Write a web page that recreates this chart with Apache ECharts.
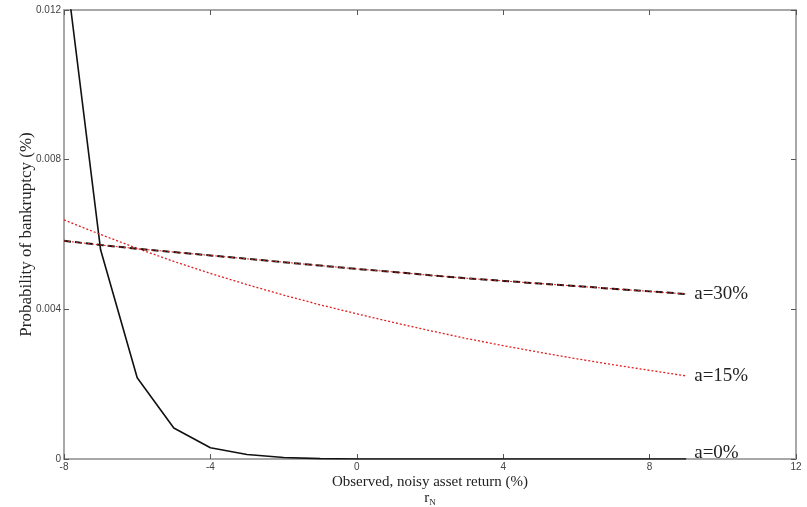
<!DOCTYPE html>
<html>
<head>
<meta charset="UTF-8">
<title>bankruptcy</title>
<script src="https://cdn.jsdelivr.net/npm/echarts@6/dist/echarts.min.js"></script>
<style>
  html, body { margin: 0; padding: 0; background: #fff; }
  #main { width: 807px; height: 507px; }
</style>
</head>
<body>
<div id="main"></div>
<script>
var returns = [-8, -7, -6, -5, -4, -3, -2, -1, 0, 1, 2, 3, 4, 5, 6, 7, 8, 9];
var a0 = [0.0135, 0.00559, 0.00217, 0.00083, 0.00030, 0.00012, 0.00004, 0.00001, 0, 0, 0, 0, 0, 0, 0, 0, 0, 0];
var a15 = [0.00639, 0.00600, 0.00563, 0.00528, 0.00496, 0.00466, 0.00438, 0.00412, 0.00388, 0.00365, 0.00343, 0.00322, 0.00303, 0.00285, 0.00268, 0.00252, 0.00237, 0.00222];
var a30 = [0.00583, 0.00572, 0.00562, 0.00553, 0.00544, 0.00535, 0.00526, 0.00517, 0.00508, 0.00500, 0.00491, 0.00483, 0.00476, 0.00469, 0.00462, 0.00455, 0.00448, 0.00441];
var xTicks = [-8, -4, 0, 4, 8, 12];
var yTicks = [0, 0.004, 0.008, 0.012];

function pairs(ys) {
  var out = [];
  for (var i = 0; i < returns.length; i++) out.push([returns[i], ys[i]]);
  return out;
}

var serif = '"Liberation Serif", "DejaVu Serif", serif';
var labelFont = { fontFamily: serif, fontSize: 19, color: '#222' };

function endLabel(text, dy) {
  return {
    show: true,
    formatter: text,
    distance: 8,
    offset: [0, dy],
    fontFamily: labelFont.fontFamily,
    fontSize: labelFont.fontSize,
    color: labelFont.color
  };
}

var axisLineStyle = { color: '#a8a8a8', width: 2 };
var tickStyle = { inside: true, length: 5, lineStyle: { color: '#555', width: 1 } };
var tickLabel = { fontFamily: 'Liberation Sans, Arial, sans-serif', fontSize: 10, color: '#444', margin: 3 };

var myChart = echarts.init(document.getElementById('main'));
var option = {
  backgroundColor: '#fff',
  animation: false,
  grid: { left: 64, right: 11, top: 10, bottom: 48, outerBoundsMode: 'none', containLabel: false },
  xAxis: [{
    type: 'value',
    min: -8, max: 12, interval: 4,
    axisLine: { show: true, onZero: false, lineStyle: axisLineStyle },
    axisTick: tickStyle,
    splitLine: { show: false },
    axisLabel: tickLabel,
    name: '{a|Observed, noisy asset return (%)}\n{b|r}{c|N}',
    nameLocation: 'middle',
    nameGap: 15,
    nameMoveOverlap: false,
    nameTextStyle: {
      rich: {
        a: { fontFamily: serif, fontSize: 15, color: '#222', lineHeight: 16 },
        b: { fontFamily: serif, fontSize: 15, color: '#222', lineHeight: 12 },
        c: { fontFamily: serif, fontSize: 9, color: '#222', padding: [8, 0, 0, 0] }
      }
    }
  }, {
    type: 'value', position: 'top',
    min: -8, max: 12, interval: 4,
    axisLine: { show: true, onZero: false, lineStyle: axisLineStyle },
    axisTick: tickStyle,
    axisLabel: { show: false },
    splitLine: { show: false }
  }],
  yAxis: [{
    type: 'value',
    min: 0, max: 0.012, interval: 0.004,
    axisLine: { show: true, onZero: false, lineStyle: axisLineStyle },
    axisTick: tickStyle,
    splitLine: { show: false },
    axisLabel: {
      fontFamily: tickLabel.fontFamily, fontSize: 10, color: '#444', margin: 3,
      formatter: function (v) {
        var i = yTicks.indexOf(Math.round(v * 1000) / 1000);
        return i >= 0 ? String(yTicks[i]) : '';
      }
    },
    name: 'Probability of bankruptcy (%)',
    nameLocation: 'middle',
    nameGap: 29,
    nameMoveOverlap: false,
    nameTextStyle: { fontFamily: serif, fontSize: 17, color: '#222' }
  }, {
    type: 'value', position: 'right',
    min: 0, max: 0.012, interval: 0.004,
    axisLine: { show: true, onZero: false, lineStyle: axisLineStyle },
    axisTick: tickStyle,
    axisLabel: { show: false },
    splitLine: { show: false }
  }],
  series: [{
    name: 'a=0%',
    type: 'line',
    data: pairs(a0),
    showSymbol: false,
    clip: true,
    lineStyle: { color: '#111', width: 1.6 },
    endLabel: endLabel('a=0%', -6)
  }, {
    name: 'a=15%',
    type: 'line',
    data: pairs(a15),
    showSymbol: false,
    lineStyle: { color: '#e02020', width: 1.3, type: [2, 2] },
    endLabel: endLabel('a=15%', 0)
  }, {
    name: 'a=30%',
    type: 'line',
    data: pairs(a30),
    showSymbol: false,
    lineStyle: { color: '#111', width: 2, type: [7, 4] },
    endLabel: endLabel('a=30%', 0)
  }, {
    name: 'a=30% dots',
    type: 'line',
    data: pairs(a30),
    showSymbol: false,
    lineStyle: { color: '#e02020', width: 1, type: [2, 2] }
  }]
};
myChart.setOption(option);
</script>
</body>
</html>
